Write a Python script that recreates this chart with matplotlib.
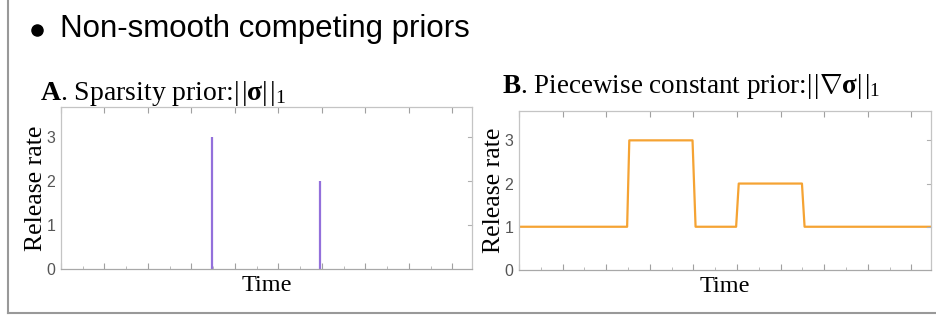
import numpy as np
import matplotlib
matplotlib.use('Agg')
import matplotlib.pyplot as plt
from matplotlib.lines import Line2D

plt.rcParams.update({
    "mathtext.fontset": "custom",
    "mathtext.rm": "Liberation Serif",
    "mathtext.it": "Liberation Serif:italic",
    "mathtext.bf": "Liberation Serif:bold",
})

# data
spike_time = [34.8, 59.6]
spike_rate = [3, 2]
step_time = [0, 24.8, 25.3, 39.8, 40.5, 49.8, 50.4, 64.9, 65.5, 94.5]
step_rate = [1, 1, 3, 3, 1, 1, 2, 2, 1, 1]
y_ticks = [0, 1, 2, 3]
x_major = np.arange(0, 95, 10)
x_minor = np.arange(5, 95, 10)

header = "Non-smooth competing priors"
title_a = r"$\mathbf{A}$. Sparsity prior:$|\!\;|\mathbf{\sigma}|\!\;|_1$"
title_b = r"$\mathbf{B}$. Piecewise constant prior:$|\!\;|\nabla\mathbf{\sigma}|\!\;|_1$"

purple = '#9370DB'
orange = '#F5A333'
spine_c = '#c4c4c4'

fig = plt.figure(figsize=(9.37, 3.21), dpi=100)

def style_axes(ax):
    ax.set_xlim(0, 94.5)
    ax.set_ylim(0, 3.68)
    ax.set_xticks(x_major)
    ax.set_xticks(x_minor, minor=True)
    ax.set_yticks(y_ticks)
    ax.set_xticklabels([])
    for s in ax.spines.values():
        s.set_color(spine_c)
        s.set_linewidth(0.9)
    ax.spines['bottom'].set_color('#a8a8a8')
    ax.tick_params(axis='x', which='major', direction='in', length=4,
                   color='#a0a0a0', top=True, bottom=True)
    ax.tick_params(axis='x', which='minor', direction='in', length=2,
                   color='#b0b0b0', top=False, bottom=True)
    ax.tick_params(axis='y', which='major', direction='in', length=0,
                   right=False, labelsize=11.5, labelcolor='#555555', pad=4)
    for lab in ax.get_yticklabels():
        lab.set_family('Liberation Sans')
    # right-side tick marks
    for yv in y_ticks[1:]:
        ax.plot([94.5 - 0.9, 94.5], [yv, yv], color='#b0b0b0', lw=0.8,
                clip_on=False)
    ax.set_ylabel('Release rate', family='Liberation Serif', fontsize=18.5,
                  labelpad=0)
    ax.set_xlabel('Time', family='Liberation Serif', fontsize=17.5, labelpad=1)

ax1 = fig.add_axes([0.0651, 0.162, 0.4386, 0.5047])
ax1.vlines(spike_time, 0, spike_rate, color=purple, lw=1.6)
style_axes(ax1)

ax2 = fig.add_axes([0.5539, 0.159, 0.4397, 0.4953])
ax2.plot(step_time, step_rate, color=orange, lw=1.6)
style_axes(ax2)

fig.text(0.0427, 0.688, title_a, fontsize=20, family='Liberation Serif')
fig.text(0.536, 0.71, title_b, fontsize=19.5, family='Liberation Serif')

fig.add_artist(Line2D([37/937], [1 - 30/321], marker='o', markersize=8,
                      color='black', linestyle='none'))
fig.text(0.064, 1 - 37/321, header, fontsize=22.5, family='Liberation Sans')

# slide frame
fig.add_artist(Line2D([8/937, 8/937], [1.0, 1 - 313/321], color='#999999',
                      lw=1.5))
fig.add_artist(Line2D([8/937, 1.0], [1 - 313/321, 1 - 313/321],
                      color='#999999', lw=1.5))

fig.savefig('out.png', dpi=100)
